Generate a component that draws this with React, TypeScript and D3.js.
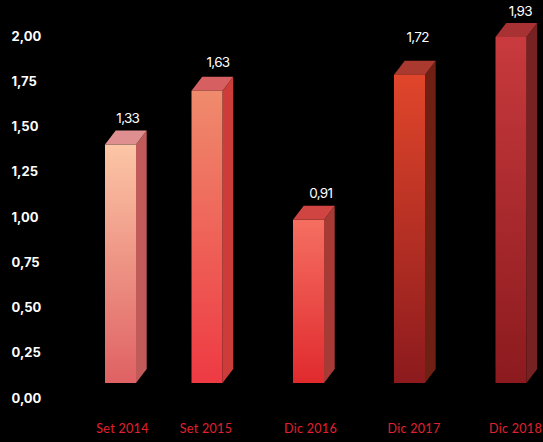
import { useEffect, useRef } from 'react';
import * as d3 from 'd3';

const categories = ['Set 2014', 'Set 2015', 'Dic 2016', 'Dic 2017', 'Dic 2018'];
const values = [1.33, 1.63, 0.91, 1.72, 1.93];
const valueLabels = ['1,33', '1,63', '0,91', '1,72', '1,93'];
const ticks = [0, 0.25, 0.5, 0.75, 1, 1.25, 1.5, 1.75, 2];
const frontTop = ['#fcc6a6', '#ef8b6d', '#f56f61', '#e0462b', '#c83a3d'];
const frontBottom = ['#df6163', '#ee3a43', '#e02a2d', '#8c1a1d', '#8b1a1e'];
const sideColors = ['#c05b59', '#cc3d39', '#a83a35', '#6e2012', '#762222'];
const topColors = ['#df8f8f', '#d66061', '#d04541', '#aa3a30', '#a83233'];

const width = 543;
const height = 442;
const barWidth = 31;
const depthX = 10.7;
const depthY = 14;
// labels were placed by hand in the original, so they don't line up with the bars
const barLefts = [105, 191.5, 293, 394, 495.5];
const valueLabelDx = [22.8, 26.5, 27.8, 23.7, 24.8];
const valueLabelY = [123, 67, 198, 42, 16];
const categoryDx = [17.5, 14.5, 17.5, 20, 20];

export default function App() {
  const svgRef = useRef<SVGSVGElement>(null);

  useEffect(() => {
    document.body.style.margin = '0';
    document.body.style.background = '#000';

    const svg = d3.select(svgRef.current);
    svg.selectAll('*').remove();

    // the bars sit on their own baseline, a bit above the 0,00 label
    const y = d3.scaleLinear().domain([0, 1.93]).range([383, 37]);
    const tickY = d3.scaleLinear().domain([0, 2]).range([399, 37]);
    const x = d3.scaleOrdinal<string, number>().domain(categories).range(barLefts);

    const defs = svg.append('defs');
    categories.forEach((c, i) => {
      const grad = defs.append('linearGradient')
        .attr('id', `front-${i}`)
        .attr('x1', 0).attr('x2', 0).attr('y1', 0).attr('y2', 1);
      grad.append('stop').attr('offset', '0%').attr('stop-color', frontTop[i]);
      grad.append('stop').attr('offset', '100%').attr('stop-color', frontBottom[i]);
    });

    svg.append('g')
      .selectAll('text')
      .data(ticks)
      .join('text')
      .attr('x', 11.5)
      .attr('y', d => tickY(d))
      .attr('dominant-baseline', 'middle')
      .attr('fill', '#fff')
      .style('font-family', 'Inter, sans-serif')
      .style('font-size', '13px')
      .style('font-weight', '700')
      .text(d => d.toFixed(2).replace('.', ','));

    categories.forEach((c, i) => {
      const left = x(c);
      const right = left + barWidth;
      const top = y(values[i]);
      const bottom = y(0);
      const g = svg.append('g');

      g.append('path')
        .attr('d', `M${right},${top}L${right + depthX},${top - depthY}L${right + depthX},${bottom - depthY}L${right},${bottom}Z`)
        .attr('fill', sideColors[i]);

      g.append('path')
        .attr('d', `M${left},${top}L${left + depthX},${top - depthY}L${right + depthX},${top - depthY}L${right},${top}Z`)
        .attr('fill', topColors[i]);

      g.append('rect')
        .attr('x', left)
        .attr('y', top)
        .attr('width', barWidth)
        .attr('height', bottom - top)
        .attr('fill', `url(#front-${i})`);

      g.append('text')
        .attr('x', left + valueLabelDx[i])
        .attr('y', valueLabelY[i])
        .attr('text-anchor', 'middle')
        .attr('fill', '#fff')
        .style('font-family', 'Inter, sans-serif')
        .style('font-size', '13.5px')
        .style('font-weight', '400')
        .style('letter-spacing', '-0.7px')
        .text(valueLabels[i]);

      g.append('text')
        .attr('x', left + categoryDx[i])
        .attr('y', 433)
        .attr('text-anchor', 'middle')
        .attr('fill', '#e3202e')
        .style('font-family', 'Lato, sans-serif')
        .style('font-size', '12.5px')
        .style('letter-spacing', '0.3px')
        .text(c);
    });
  }, []);

  return (
    <svg
      ref={svgRef}
      width={width}
      height={height}
      style={{ display: 'block', background: '#000' }}
    />
  );
}
